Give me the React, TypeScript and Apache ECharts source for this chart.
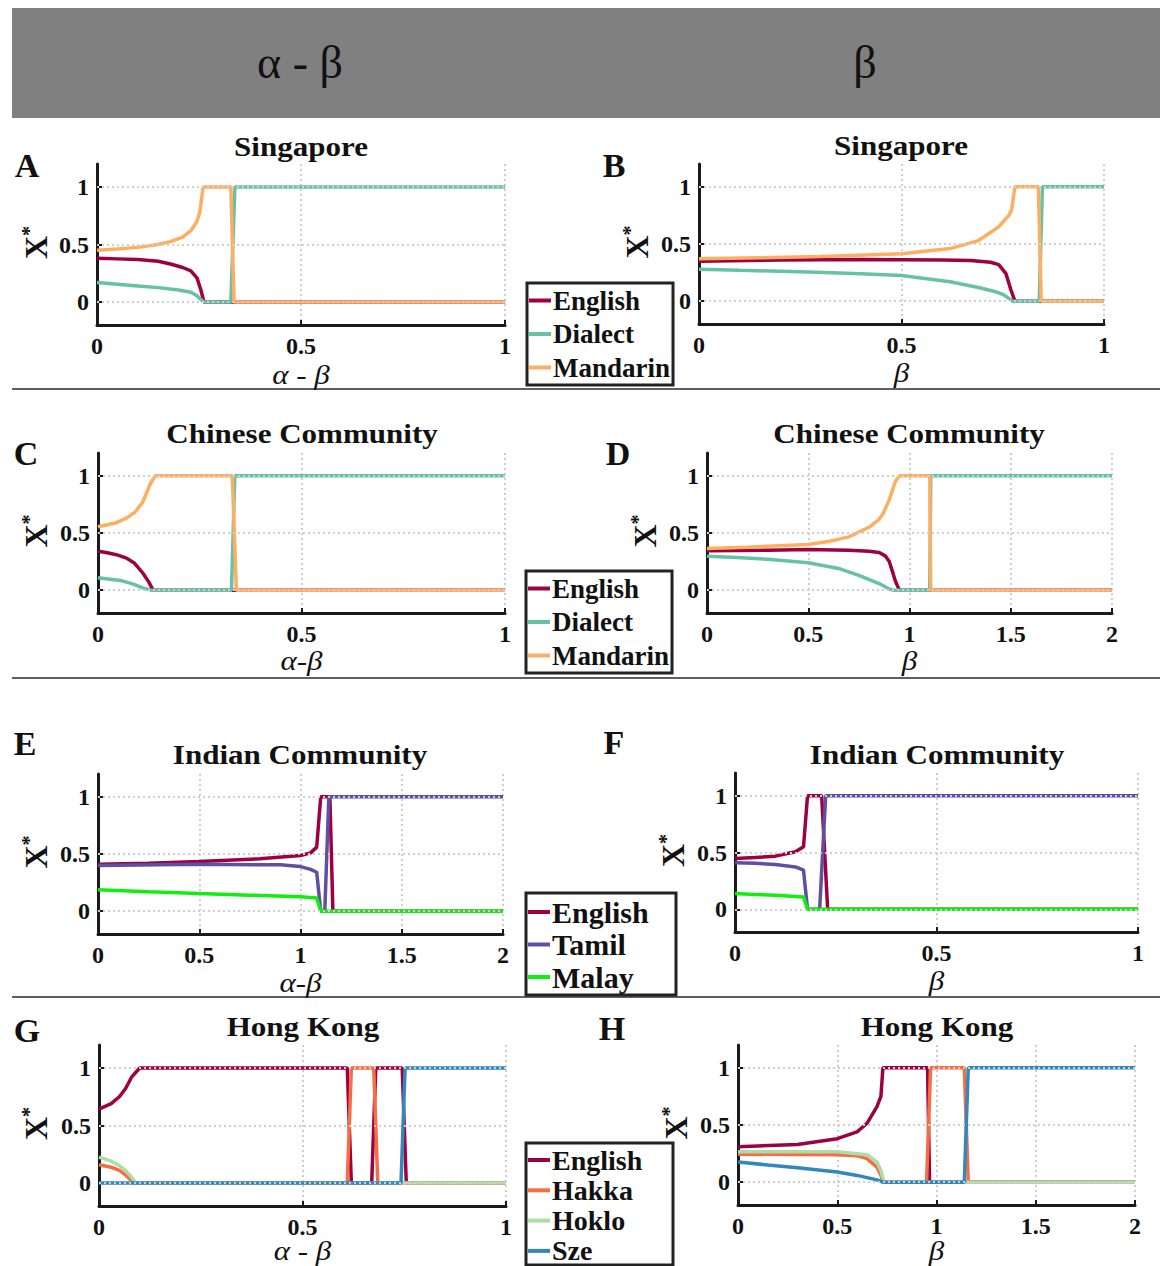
import React, { useEffect, useRef } from "react";
import * as echarts from "echarts";

// ---------- data ----------
const xTicks1 = [0, 0.5, 1];
const xTicks2 = [0, 0.5, 1, 1.5, 2];
const yTicks = [0, 0.5, 1];

// A: Singapore, alpha-beta
const aEnglish = [[0,0.38],[0.05,0.375],[0.1,0.37],[0.15,0.355],[0.18,0.33],[0.21,0.3],[0.23,0.27],[0.245,0.21],[0.255,0.1],[0.262,0],[1,0]];
const aDialect = [[0,0.17],[0.05,0.155],[0.1,0.14],[0.15,0.125],[0.2,0.105],[0.23,0.085],[0.245,0.055],[0.255,0.02],[0.262,0],[0.328,0],[0.338,1],[1,1]];
const aMandarin = [[0,0.45],[0.05,0.46],[0.1,0.475],[0.15,0.5],[0.18,0.525],[0.21,0.565],[0.23,0.62],[0.245,0.7],[0.252,0.78],[0.26,1],[0.328,1],[0.336,0],[1,0]];
// B: Singapore, beta
const bEnglish = [[0,0.35],[0.2,0.36],[0.4,0.365],[0.6,0.36],[0.67,0.355],[0.72,0.34],[0.74,0.32],[0.758,0.24],[0.77,0.1],[0.78,0],[1,0]];
const bDialect = [[0,0.28],[0.1,0.27],[0.27,0.255],[0.4,0.24],[0.5,0.225],[0.62,0.17],[0.69,0.12],[0.73,0.085],[0.75,0.06],[0.775,0],[0.84,0],[0.848,1],[1,1]];
const bMandarin = [[0,0.37],[0.15,0.38],[0.3,0.39],[0.5,0.415],[0.62,0.46],[0.69,0.53],[0.74,0.65],[0.765,0.75],[0.772,0.8],[0.78,1],[0.838,1],[0.845,0],[1,0]];
// C: Chinese Community, alpha-beta
const cEnglish = [[0,0.34],[0.02,0.33],[0.045,0.31],[0.07,0.28],[0.09,0.235],[0.11,0.15],[0.125,0.07],[0.135,0],[1,0]];
const cDialect = [[0,0.108],[0.03,0.095],[0.055,0.085],[0.085,0.055],[0.11,0.02],[0.13,0],[0.328,0],[0.336,1],[1,1]];
const cMandarin = [[0,0.555],[0.02,0.57],[0.045,0.59],[0.07,0.63],[0.09,0.68],[0.11,0.77],[0.127,0.92],[0.14,1],[0.33,1],[0.34,0],[1,0]];
// D: Chinese Community, beta
const dEnglish = [[0,0.345],[0.3,0.35],[0.5,0.355],[0.7,0.35],[0.8,0.34],[0.85,0.33],[0.88,0.3],[0.9,0.25],[0.92,0.14],[0.93,0.08],[0.95,0],[2,0]];
const dDialect = [[0,0.297],[0.15,0.285],[0.3,0.27],[0.5,0.24],[0.65,0.19],[0.75,0.13],[0.85,0.058],[0.9,0.01],[0.92,0],[1.1,0],[1.105,1],[2,1]];
const dMandarin = [[0,0.365],[0.2,0.375],[0.5,0.4],[0.6,0.425],[0.7,0.466],[0.8,0.55],[0.85,0.62],[0.87,0.67],[0.9,0.79],[0.93,0.95],[0.95,1],[1.1,1],[1.105,0],[2,0]];
// E: Indian Community, alpha-beta
const eEnglish = [[0,0.41],[0.25,0.42],[0.5,0.435],[0.8,0.458],[1.0,0.487],[1.05,0.51],[1.08,0.56],[1.1,1],[1.145,1],[1.16,0],[2,0]];
const eTamil = [[0,0.4],[0.5,0.41],[0.9,0.405],[1.0,0.39],[1.05,0.365],[1.08,0.34],[1.1,0],[1.12,0],[1.14,1],[2,1]];
const eMalay = [[0,0.188],[0.25,0.17],[0.5,0.154],[0.75,0.14],[1.0,0.125],[1.08,0.115],[1.1,0],[2,0]];
// F: Indian Community, beta
const fEnglish = [[0,0.447],[0.05,0.455],[0.1,0.468],[0.15,0.506],[0.17,0.55],[0.18,1],[0.215,1],[0.23,0],[1,0]];
const fTamil = [[0,0.41],[0.05,0.405],[0.1,0.394],[0.15,0.373],[0.17,0.344],[0.18,0],[0.21,0],[0.225,1],[1,1]];
const fMalay = [[0,0.138],[0.05,0.13],[0.1,0.124],[0.17,0.109],[0.18,0],[1,0]];
// G: Hong Kong, alpha-beta
const gEnglish = [[0,0.643],[0.03,0.69],[0.05,0.75],[0.065,0.82],[0.08,0.92],[0.1,1],[0.61,1],[0.62,0],[0.67,0],[0.68,1],[0.745,1],[0.755,0],[1,0]];
const gHakka = [[0,0.158],[0.03,0.137],[0.05,0.11],[0.065,0.07],[0.08,0.02],[0.085,0],[0.61,0],[0.62,1],[0.675,1],[0.685,0],[1,0]];
const gHoklo = [[0,0.225],[0.03,0.19],[0.05,0.15],[0.065,0.11],[0.08,0.05],[0.09,0],[1,0]];
const gSze = [[0,0],[0.742,0],[0.752,1],[1,1]];
// H: Hong Kong, beta
const hEnglish = [[0,0.309],[0.3,0.33],[0.5,0.38],[0.6,0.44],[0.65,0.515],[0.7,0.66],[0.72,0.75],[0.73,1],[0.955,1],[0.965,0],[2,0]];
const hHakka = [[0,0.244],[0.5,0.24],[0.6,0.23],[0.65,0.206],[0.7,0.13],[0.72,0.06],[0.73,0],[0.95,0],[0.97,1],[1.14,1],[1.16,0],[2,0]];
const hHoklo = [[0,0.265],[0.5,0.265],[0.65,0.24],[0.7,0.176],[0.72,0.1],[0.735,0],[2,0]];
const hSze = [[0,0.176],[0.15,0.15],[0.3,0.126],[0.5,0.088],[0.6,0.059],[0.7,0.02],[0.73,0],[1.14,0],[1.16,1],[2,1]];

const COLORS: Record<string, string> = {
  English: "#9e0142",
  Dialect: "#66c2a5",
  Mandarin: "#fdae61",
  Tamil: "#5e4fa2",
  Malay: "#10ee10",
  Hakka: "#f46d43",
  Hoklo: "#abdda4",
  Sze: "#3288bd",
};

const SERIF = "'Liberation Serif', 'Times New Roman', serif";

// ---------- layout ----------
const panels = [
  { letter: "A", title: "Singapore", xName: "α - β", xMax: 1, grid: { left: 97, top: 164, width: 408, height: 161 }, lx: 27, ly: 165, tx: 301, ty: 147, xnY: 375, ynX: 36,
    series: [["English", aEnglish], ["Dialect", aDialect], ["Mandarin", aMandarin]] },
  { letter: "B", title: "Singapore", xName: "β", xMax: 1, grid: { left: 699, top: 164, width: 405, height: 160 }, lx: 614, ly: 165, tx: 901, ty: 146, xnY: 373, ynX: 637,
    series: [["English", bEnglish], ["Dialect", bDialect], ["Mandarin", bMandarin]] },
  { letter: "C", title: "Chinese Community", xName: "α-β", xMax: 1, grid: { left: 98, top: 453, width: 407, height: 160 }, lx: 26, ly: 453, tx: 302, ty: 434, xnY: 661, ynX: 36,
    series: [["English", cEnglish], ["Dialect", cDialect], ["Mandarin", cMandarin]] },
  { letter: "D", title: "Chinese Community", xName: "β", xMax: 2, grid: { left: 707, top: 453, width: 405, height: 160 }, lx: 618, ly: 453, tx: 909, ty: 434, xnY: 661, ynX: 645,
    series: [["English", dEnglish], ["Dialect", dDialect], ["Mandarin", dMandarin]] },
  { letter: "E", title: "Indian Community", xName: "α-β", xMax: 2, grid: { left: 98, top: 774, width: 405, height: 160 }, lx: 25, ly: 743, tx: 300, ty: 755, xnY: 983, ynX: 36,
    series: [["English", eEnglish], ["Tamil", eTamil], ["Malay", eMalay]] },
  { letter: "F", title: "Indian Community", xName: "β", xMax: 1, grid: { left: 735, top: 773, width: 403, height: 159 }, lx: 614, ly: 742, tx: 937, ty: 755, xnY: 981, ynX: 673,
    series: [["English", fEnglish], ["Tamil", fTamil], ["Malay", fMalay]] },
  { letter: "G", title: "Hong Kong", xName: "α - β", xMax: 1, grid: { left: 99, top: 1045, width: 407, height: 161 }, lx: 27, ly: 1030, tx: 303, ty: 1027, xnY: 1251, ynX: 36,
    series: [["English", gEnglish], ["Hakka", gHakka], ["Hoklo", gHoklo], ["Sze", gSze]] },
  { letter: "H", title: "Hong Kong", xName: "β", xMax: 2, grid: { left: 738, top: 1045, width: 397, height: 160 }, lx: 612, ly: 1028, tx: 937, ty: 1027, xnY: 1251, ynX: 676,
    series: [["English", hEnglish], ["Hakka", hHakka], ["Hoklo", hHoklo], ["Sze", hSze]] },
];

const legends = [
  { names: ["English", "Dialect", "Mandarin"], left: 527, top: 283, fontSize: 27, lineHeight: 27, gap: 6.5, textWidth: 116, pad: [4, 3, 4, 2] },
  { names: ["English", "Dialect", "Mandarin"], left: 526, top: 571, fontSize: 27, lineHeight: 27, gap: 6.5, textWidth: 117, pad: [4, 3, 4, 2] },
  { names: ["English", "Tamil", "Malay"], left: 526, top: 893, fontSize: 30, lineHeight: 30, gap: 2.5, textWidth: 121, pad: [4, 3, 3, 2] },
  { names: ["English", "Hakka", "Hoklo", "Sze"], left: 526, top: 1143, fontSize: 28, lineHeight: 28, gap: 2.3, textWidth: 118, pad: [3, 3, 0, 2] },
];

function buildOption() {
  const grid = panels.map((p) => ({ ...p.grid }));
  const xAxis = panels.map((p, i) => ({
    gridIndex: i,
    type: "value",
    min: 0,
    max: p.xMax,
    interval: 0.5,
    axisLine: { show: true, onZero: false, lineStyle: { color: "#1a1a1a", width: 3 } },
    axisTick: { show: true, inside: true, length: 5, lineStyle: { color: "#1a1a1a", width: 2 }, customValues: p.xMax === 2 ? xTicks2 : xTicks1 },
    axisLabel: {
      customValues: p.xMax === 2 ? xTicks2 : xTicks1,
      margin: 9,
      color: "#111",
      fontFamily: SERIF,
      fontWeight: "bold",
      fontSize: 24,
      formatter: (v: number) => String(v),
    },
    splitLine: { show: true, lineStyle: { color: "#cfcfcf", width: 2, type: [2, 3] } },
  }));
  const yAxis = panels.map((p, i) => ({
    gridIndex: i,
    type: "value",
    min: -0.2,
    max: 1.2,
    axisLine: { show: true, onZero: false, lineStyle: { color: "#1a1a1a", width: 3 } },
    axisTick: { show: true, inside: true, length: 5, lineStyle: { color: "#1a1a1a", width: 2 }, customValues: yTicks },
    axisLabel: {
      customValues: yTicks,
      margin: 8,
      color: "#111",
      fontFamily: SERIF,
      fontWeight: "bold",
      fontSize: 24,
      formatter: (v: number) => String(v),
    },
    splitLine: { show: false },
  }));

  const series: any[] = [];
  panels.forEach((p, i) => {
    series.push({
      type: "line",
      name: "_grid" + p.letter,
      xAxisIndex: i,
      yAxisIndex: i,
      data: [[0, 0]],
      showSymbol: false,
      silent: true,
      z: 1,
      lineStyle: { opacity: 0 },
      markLine: {
        silent: true,
        symbol: ["none", "none"],
        label: { show: false },
        lineStyle: { color: "#cfcfcf", width: 2, type: [2, 3] },
        data: yTicks.map((v) => ({ yAxis: v })),
      },
    });
    p.series.forEach(([name, data]: any) => {
      series.push({
        type: "line",
        name,
        xAxisIndex: i,
        yAxisIndex: i,
        data,
        showSymbol: false,
        z: 3,
        color: COLORS[name],
        lineStyle: { width: 3.5, color: COLORS[name] },
      });
    });
  });

  const legend = legends.map((l) => ({
    orient: "vertical",
    left: l.left,
    top: l.top,
    height: 200,
    data: l.names,
    icon: "rect",
    itemWidth: 22,
    itemHeight: 4,
    itemGap: l.gap,
    padding: l.pad,
    backgroundColor: "#ffffff",
    borderColor: "#222",
    borderWidth: 3,
    borderRadius: 0,
    selectedMode: false,
    textStyle: {
      fontFamily: SERIF,
      fontWeight: "bold",
      fontSize: l.fontSize,
      lineHeight: l.lineHeight,
      color: "#111",
      width: l.textWidth,
      padding: [0, 0, 0, -3],
    },
  }));

  const graphic: any[] = [];
  graphic.push({ type: "rect", shape: { x: 12, y: 8, width: 1148, height: 110 }, style: { fill: "#808080" }, z: 0 });
  graphic.push({ type: "text", x: 300, y: 62, style: { text: "α - β", font: "46px " + SERIF, fill: "#111", textAlign: "center", textVerticalAlign: "middle" } });
  graphic.push({ type: "text", x: 865, y: 62, style: { text: "β", font: "46px " + SERIF, fill: "#111", textAlign: "center", textVerticalAlign: "middle" } });
  [389, 678, 997].forEach((y) => {
    graphic.push({ type: "line", shape: { x1: 12, y1: y, x2: 1160, y2: y }, style: { stroke: "#2a2a2a", lineWidth: 1.5 } });
  });
  panels.forEach((p) => {
    graphic.push({ type: "text", x: p.lx, y: p.ly, style: { text: p.letter, font: "bold 34px " + SERIF, fill: "#111", textAlign: "center", textVerticalAlign: "middle" } });
    graphic.push({ type: "text", x: p.tx, y: p.ty, scaleX: 1.15, style: { text: p.title, font: "bold 27px " + SERIF, fill: "#111", textAlign: "center", textVerticalAlign: "middle" } });
    graphic.push({ type: "text", x: p.grid.left + p.grid.width / 2, y: p.xnY, scaleX: 1.15, style: { text: p.xName, font: "italic 27px " + SERIF, fill: "#111", textAlign: "center", textVerticalAlign: "middle" } });
    graphic.push({
      type: "text",
      x: p.ynX,
      y: p.grid.top + p.grid.height / 2 - 2,
      rotation: Math.PI / 2,
      style: {
        text: "{a|X}{b|*}",
        textAlign: "center",
        textVerticalAlign: "middle",
        fill: "#111",
        rich: {
          a: { font: "bold 32px " + SERIF, fill: "#111" },
          b: { font: "bold 20px " + SERIF, fill: "#111", verticalAlign: "top", padding: [0, 0, 14, 0] },
        },
      },
    });
  });

  return {
    animation: false,
    backgroundColor: "#ffffff",
    grid,
    xAxis,
    yAxis,
    legend,
    series,
    graphic,
  };
}

export default function App() {
  const ref = useRef<HTMLDivElement>(null);
  useEffect(() => {
    document.body.style.margin = "0";
    if (!ref.current) return;
    const chart = echarts.init(ref.current, undefined, { renderer: "svg" });
    chart.setOption(buildOption() as any);
    return () => chart.dispose();
  }, []);
  return <div ref={ref} style={{ width: 1163, height: 1266 }} />;
}
